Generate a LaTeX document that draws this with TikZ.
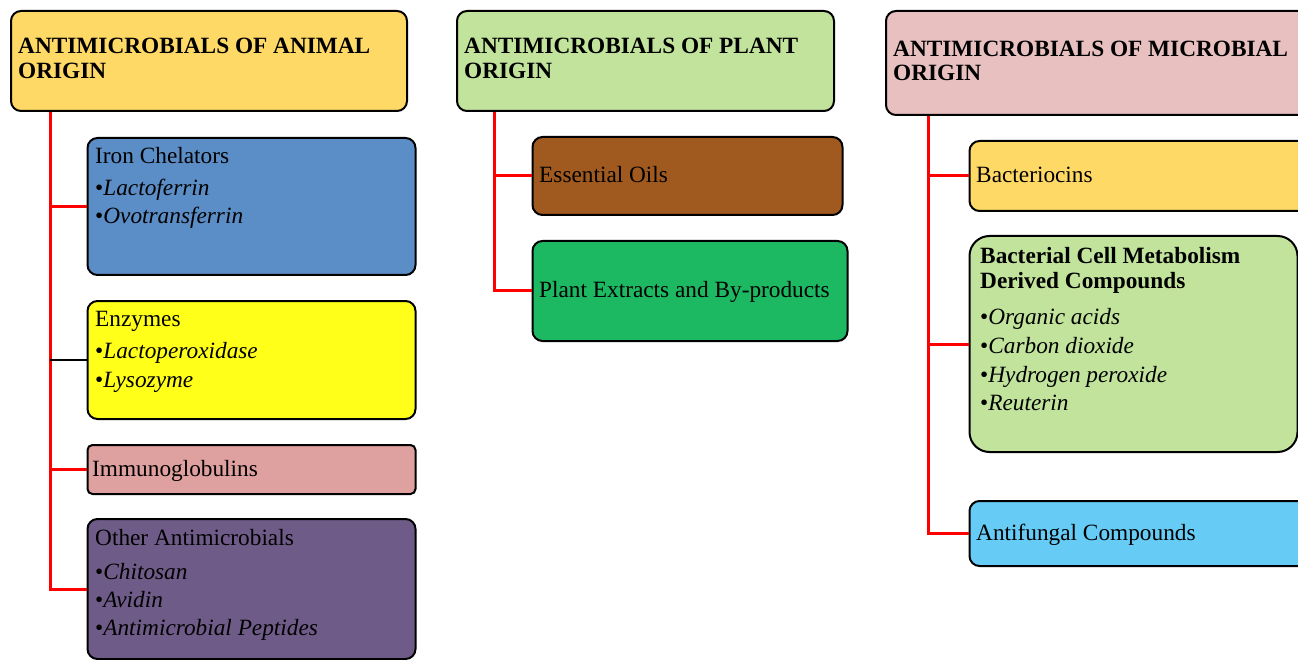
\documentclass[tikz,border=0pt]{standalone}
\usepackage{fontspec}
\setmainfont{Liberation Serif}
\definecolor{cGold}{HTML}{FFD966}
\definecolor{cBlue}{HTML}{5B8DC6}
\definecolor{cYel}{HTML}{FFFF1A}
\definecolor{cRose}{HTML}{DEA19F}
\definecolor{cPurp}{HTML}{6E5B87}
\definecolor{cLGreen}{HTML}{C1E39B}
\definecolor{cBrown}{HTML}{A05A1F}
\definecolor{cGreen}{HTML}{1DB862}
\definecolor{cPink}{HTML}{E8C0C0}
\definecolor{cSky}{HTML}{66CCF5}
\tikzset{
  box/.style={draw=black, line width=2pt, rounded corners=10pt, anchor=north west, inner sep=0pt},
  tl/.style={anchor=base west, inner sep=0pt, font=\fontsize{23.3}{28}\selectfont},
  th/.style={tl, font=\fontsize{23.3}{28}\selectfont\bfseries},
  redl/.style={draw=red, line width=3pt},
  blkl/.style={draw=black, line width=1.6pt}
}
\begin{document}
\begin{tikzpicture}[x=1pt,y=-1pt]
\useasboundingbox (0,0) rectangle (1298,660);
\clip (0,0) rectangle (1298,660);
% ---------- column 1 ----------
\coordinate (a0) at (50,110);
\coordinate (b0) at (494,110);
\coordinate (c0) at (928,114);
\node[box, fill=cBlue, minimum width=328pt, minimum height=137pt] (iron) at (86.5,137) {};
\node[box, fill=cYel, minimum width=328pt, minimum height=118pt] (enz) at (86.5,300) {};
\node[box, fill=cRose, minimum width=328pt, minimum height=49pt, rounded corners=5pt] (immu) at (86.5,444) {};
\node[box, fill=cPurp, minimum width=328pt, minimum height=140pt] (other) at (86.5,518) {};
\draw[redl] (a0) |- (iron.west);
\draw[redl] (a0) |- (immu.west);
\draw[redl] (a0) |- (other.west);
\coordinate (a1) at (a0 |- enz.west);
\draw[blkl] (a1) -- (enz.west);
\node[box, fill=cGold, minimum width=396pt, minimum height=100pt] (hA) at (10,10) {};
\node[th] (hA1) at (18,54) {ANTIMICROBIALS OF ANIMAL};
\node[th] (hA2) at (18,79) {ORIGIN};
\node[tl] (ir1) at (95,164) {Iron Chelators};
\node[tl] (ir2) at (95,196) {\textbullet\textit{Lactoferrin}};
\node[tl] (ir3) at (95,224) {\textbullet\textit{Ovotransferrin}};
\node[tl] (en1) at (95,326) {Enzymes};
\node[tl] (en2) at (95,358) {\textbullet\textit{Lactoperoxidase}};
\node[tl] (en3) at (95,387) {\textbullet\textit{Lysozyme}};
\node[tl] (im1) at (92,476) {Immunoglobulins};
\node[tl] (ot1) at (95,545) {Other Antimicrobials};
\node[tl] (ot2) at (95,579) {\textbullet\textit{Chitosan}};
\node[tl] (ot3) at (95,607) {\textbullet\textit{Avidin}};
\node[tl] (ot4) at (95,635) {\textbullet\textit{Antimicrobial Peptides}};
% ---------- column 2 ----------
\node[box, fill=cBrown, minimum width=310pt, minimum height=78pt] (ess) at (531.5,136) {};
\node[box, fill=cGreen, minimum width=315pt, minimum height=100pt] (pext) at (531.5,240) {};
\draw[redl] (b0) |- (ess.west);
\draw[redl] (b0) |- (pext.west);
\node[box, fill=cLGreen, minimum width=377pt, minimum height=100pt] (hB) at (456,10) {};
\node[th] (hB1) at (464,54) {ANTIMICROBIALS OF PLANT};
\node[th] (hB2) at (464,79) {ORIGIN};
\node[tl] (es1) at (539,183) {Essential Oils};
\node[tl] (pe1) at (539,298) {Plant Extracts and By-products};
% ---------- column 3 ----------
\node[box, fill=cGold, minimum width=420pt, minimum height=70pt] (bact) at (968.5,140) {};
\node[box, fill=cLGreen, minimum width=328pt, minimum height=216pt, rounded corners=20pt] (bcm) at (968.5,235) {};
\node[box, fill=cSky, minimum width=420pt, minimum height=65pt] (afun) at (968.5,500) {};
\draw[redl] (c0) |- (bact.west);
\draw[redl] (c0) |- (bcm.west);
\draw[redl] (c0) |- (afun.west);
\node[box, fill=cPink, minimum width=500pt, minimum height=104pt] (hC) at (885,10) {};
\node[th] (hC1) at (893,57) {ANTIMICROBIALS OF MICROBIAL};
\node[th] (hC2) at (893,81) {ORIGIN};
\node[tl] (ba1) at (976,183) {Bacteriocins};
\node[th] (bc1) at (980,264) {Bacterial Cell Metabolism};
\node[th] (bc2) at (980,289) {Derived Compounds};
\node[tl] (bc3) at (980,324) {\textbullet\textit{Organic acids}};
\node[tl] (bc4) at (980,353) {\textbullet\textit{Carbon dioxide}};
\node[tl] (bc5) at (980,382) {\textbullet\textit{Hydrogen peroxide}};
\node[tl] (bc6) at (980,410) {\textbullet\textit{Reuterin}};
\node[tl] (af1) at (976,540) {Antifungal Compounds};
\end{tikzpicture}
\end{document}
